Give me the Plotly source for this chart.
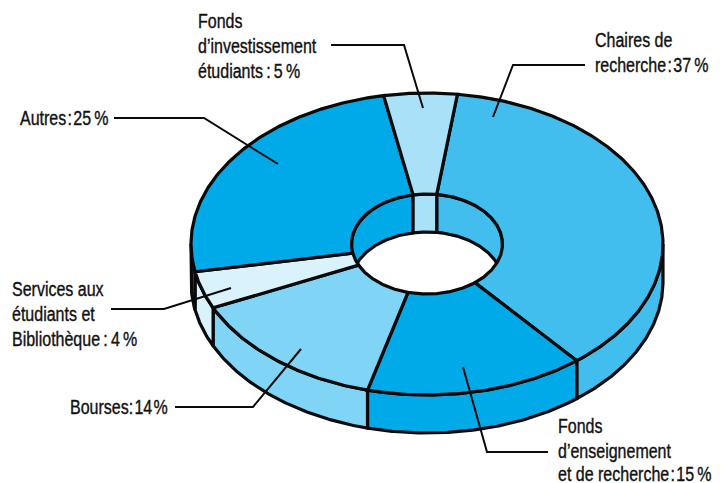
import numpy as np
import plotly.graph_objects as go

# Data
categories = ["Chaires de recherche", "Fonds d'enseignement et de recherche", "Bourses",
              "Services aux étudiants et Bibliothèque", "Autres", "Fonds d'investissement étudiants"]
values = [37, 15, 14, 4, 25, 5]
colors = ["#41BDEE", "#00A9E7", "#80D4F5", "#D9F2FC", "#00A9E7", "#A9E1F9"]
start_angle = 7.4  # clockwise from the top of the ellipse

# Projection of the tilted ring (pixel axes)
CX, CY = 427.0, 244.0
RX, RY = 236.0, 151.0
HX, HY = 75.5, 50.0
DEPTH = 38.0
INK = "#0a0a0a"

labels = [
    (198, 21, "Fonds"), (198, 46, "d’investissement"), (198, 71, "étudiants\u2009:\u20095\u2009%"),
    (595, 40, "Chaires de"), (595, 65, "recherche\u200a:\u200a37\u2009%"),
    (20, 118, "Autres\u200a:\u200a25\u2009%"),
    (12, 289, "Services aux"), (12, 314, "étudiants et"), (12, 339, "Bibliothèque\u2009:\u20094\u2009%"),
    (70, 407, "Bourses:\u200a14\u200a%"),
    (558, 426, "Fonds"), (558, 451, "d’enseignement"), (558, 474, "et de recherche\u200a:\u200a15\u2009%"),
]
leaders = [
    ([331, 404, 423], [45, 45, 108]),
    ([585, 513, 493], [65, 65, 117]),
    ([114, 204, 278], [118, 118, 164]),
    ([111, 164, 231], [309, 309, 288]),
    ([175, 253, 301], [407, 407, 349]),
    ([548, 487, 463], [452, 452, 367]),
]


def arc(a0, a1, rx, ry, dy=0.0):
    t = np.radians(np.linspace(a0, a1, max(int(abs(a1 - a0) * 2), 2)))
    return CX + rx * np.sin(t), CY + dy - ry * np.cos(t)


def overlap(a0, a1, lo, hi):
    """Part of [a0, a1] that falls in [lo, hi], trying full-turn offsets."""
    out = []
    for k in (-360, 0, 360):
        s, e = max(a0, lo + k), min(a1, hi + k)
        if e > s:
            out.append((s, e))
    return out


def poly(fig, xs, ys, color):
    fig.add_trace(go.Scatter(
        x=np.concatenate(xs), y=np.concatenate(ys), mode="lines", fill="toself",
        fillcolor=color, line=dict(color=INK, width=3.2), hoverinfo="skip", showlegend=False))


spans = []
a = start_angle
for v in values:
    spans.append((a, a + v / sum(values) * 360))
    a = spans[-1][1]

fig = go.Figure()

# inner wall: the far half of the hole
for (a0, a1), c in zip(spans, colors):
    for s, e in overlap(a0, a1, -90, 90):
        x1, y1 = arc(s, e, HX, HY)
        x2, y2 = arc(e, s, HX, HY, DEPTH)
        poly(fig, [x1, x2, x1[:1]], [y1, y2, y1[:1]], c)

# outer wall: the near half of the rim
for (a0, a1), c in zip(spans, colors):
    for s, e in overlap(a0, a1, 90, 270):
        x1, y1 = arc(s, e, RX, RY)
        x2, y2 = arc(e, s, RX, RY, DEPTH)
        poly(fig, [x1, x2, x1[:1]], [y1, y2, y1[:1]], c)

# top face
for (a0, a1), c in zip(spans, colors):
    x1, y1 = arc(a0, a1, RX, RY)
    x2, y2 = arc(a1, a0, HX, HY)
    poly(fig, [x1, x2, x1[:1]], [y1, y2, y1[:1]], c)

for lx, ly in leaders:
    fig.add_trace(go.Scatter(x=lx, y=ly, mode="lines", line=dict(color=INK, width=2),
                             hoverinfo="skip", showlegend=False))

for x, y, t in labels:
    fig.add_annotation(x=x, y=y, text=t, showarrow=False, xanchor="left", yanchor="middle",
                       xshift=-2, font=dict(family="Liberation Sans", size=16, color="#111111"))

fig.update_layout(
    width=723, height=483, margin=dict(l=0, r=0, t=0, b=0),
    paper_bgcolor="white", plot_bgcolor="white",
    xaxis=dict(range=[0, 723], visible=False, fixedrange=True),
    yaxis=dict(range=[483, 0], visible=False, fixedrange=True),
)
# The page's default margin is removed, and the labels are made taller to read as the reference's condensed face.
post = """
document.body.style.margin = '0';
document.documentElement.style.overflow = 'hidden';
setTimeout(function () {
  document.querySelectorAll('.annotation-text').forEach(function (t) {
    var b = t.getBBox();
    var cy = b.y + b.height / 2;
    t.setAttribute('transform', 'translate(0,' + cy + ') scale(1,1.25) translate(0,' + (-cy) + ')');
    t.style.stroke = '#111111';
    t.style.strokeWidth = '0.3px';
  });
}, 50);
"""
fig.write_html("out.html", config={"displayModeBar": False}, post_script=post)
